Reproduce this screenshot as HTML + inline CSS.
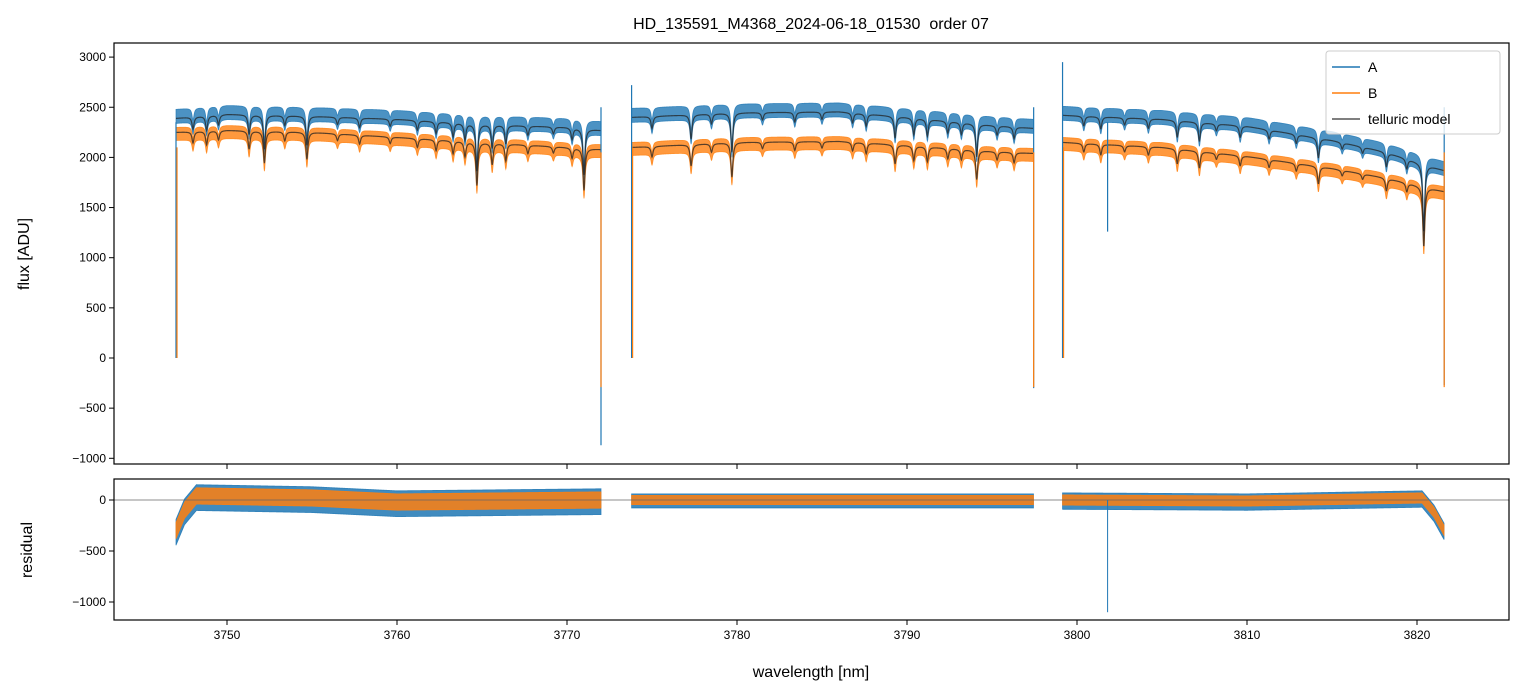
<!DOCTYPE html>
<html><head><meta charset="utf-8">
<style>
html,body{margin:0;padding:0;background:#fff;}
svg{display:block;font-family:"Liberation Sans","DejaVu Sans",sans-serif;}
</style></head>
<body>
<svg id="chart" width="1523" height="696" viewBox="0 0 1523 696" xmlns="http://www.w3.org/2000/svg">
<text x="811" y="29" font-size="16" text-anchor="middle" xml:space="preserve">HD_135591_M4368_2024-06-18_01530  order 07</text>
<g id="topPanel"></g>
<g id="botPanel"></g>
<text x="811" y="677" font-size="16" text-anchor="middle">wavelength [nm]</text>
<text x="29" y="254" font-size="16" text-anchor="middle" transform="rotate(-90 29 254)">flux [ADU]</text>
<text x="32" y="550" font-size="16" text-anchor="middle" transform="rotate(-90 32 550)">residual</text>
<g>
<rect x="1326" y="51" width="174" height="83" rx="3" fill="#fff" fill-opacity="0.8" stroke="#ccc"/>
<line x1="1332" y1="67" x2="1360" y2="67" stroke="#1f77b4" stroke-width="1.5"/>
<text x="1368" y="72" font-size="14">A</text>
<line x1="1332" y1="93" x2="1360" y2="93" stroke="#ff7f0e" stroke-width="1.5"/>
<text x="1368" y="98" font-size="14">B</text>
<line x1="1332" y1="119" x2="1360" y2="119" stroke="#555" stroke-width="1.5"/>
<text x="1368" y="124" font-size="14">telluric model</text>
</g>
</svg>
<script>
// ---- data ----
const xTicks = [3750,3760,3770,3780,3790,3800,3810,3820];
const yTicksTop = [3000,2500,2000,1500,1000,500,0,-500,-1000];
const yTicksBot = [0,-500,-1000];
const segStart = [3747.0, 3773.8, 3799.15];
const segEnd   = [3772.0, 3797.45, 3821.6];
const contW = [[3747,3750,3755,3760,3765,3770,3772],[3773.8,3780,3786,3790,3795,3797.45],[3799.15,3805,3810,3815,3818,3821.6]];
const contA = [[2390,2430,2410,2380,2330,2300,2270],[2400,2445,2455,2400,2320,2290],[2420,2380,2310,2170,2060,1870]];
const contB = [[2250,2270,2250,2200,2150,2100,2080],[2100,2150,2160,2120,2060,2040],[2150,2100,2010,1890,1800,1660]];
const lineW = [3748.0,3748.8,3749.5,3751.3,3752.2,3753.4,3754.7,3756.5,3757.8,3759.6,3761.2,3762.3,3763.3,3764.0,3764.7,3765.6,3766.4,3767.7,3769.2,3770.3,3771.0,
 3775.0,3777.3,3778.5,3779.7,3781.5,3783.4,3785.0,3786.8,3787.6,3789.3,3790.4,3791.2,3792.4,3793.2,3794.1,3795.3,3796.3,
 3800.4,3801.4,3802.8,3804.2,3805.9,3807.2,3808.2,3809.6,3811.3,3812.9,3814.2,3815.6,3816.8,3818.2,3819.4,3820.4];
const lineD = [0.05,0.06,0.04,0.08,0.14,0.04,0.12,0.03,0.04,0.03,0.04,0.05,0.06,0.07,0.2,0.1,0.08,0.04,0.03,0.05,0.2,
 0.05,0.1,0.04,0.16,0.03,0.04,0.03,0.04,0.05,0.09,0.07,0.07,0.05,0.05,0.14,0.04,0.05,
 0.04,0.05,0.03,0.04,0.07,0.08,0.03,0.05,0.04,0.04,0.09,0.03,0.03,0.07,0.05,0.35];
const edgeStartA = [2350, 2720, 2950];
const edgeEnd = [-870, -300, -270];
const resW = [[3747,3747.5,3748.2,3755,3760,3772],[3773.8,3797.45],[3799.15,3810,3820.3,3821.0,3821.6]];
const resV = [[-300,-100,40,20,-20,0],[0,0],[0,-10,20,-120,-300]];
const resSpreadA = [110, 60, 70];
const resSpreadB = [80, 45, 50];

// ---- axes ----
const L=114,R=1509;
const xs=w=>227+(w-3750)*17;
const yt=v=>358-v*0.1003;
const yb=v=>500-v*0.102;
const NS='http://www.w3.org/2000/svg';
function mk(tag,attrs,parent){const e=document.createElementNS(NS,tag);for(const k in attrs)e.setAttribute(k,attrs[k]);parent.appendChild(e);return e;}
function interp(ws,vs,w){if(w<=ws[0])return vs[0];for(let i=1;i<ws.length;i++){if(w<=ws[i]){const t=(w-ws[i-1])/(ws[i]-ws[i-1]);return vs[i-1]+t*(vs[i]-vs[i-1]);}}return vs[vs.length-1];}
function absorb(w){let f=1;for(let i=0;i<lineW.length;i++){const d=(w-lineW[i])/0.07;f*=1-lineD[i]/(1+d*d);}return f;}
const topG=document.getElementById('topPanel'),botG=document.getElementById('botPanel');

function drawBand(parent,fn,yf,up,dn,color,op,name){
  for(let s=0;s<3;s++){
    const ws=[];for(let w=segStart[s];w<=segEnd[s]+1e-9;w+=0.02)ws.push(w);
    let d='';
    ws.forEach(w=>{d+=(d?'L':'M')+xs(w).toFixed(2)+','+yf(fn(s,w)+up(s)).toFixed(2);});
    for(let i=ws.length-1;i>=0;i--){const w=ws[i];d+='L'+xs(w).toFixed(2)+','+yf(fn(s,w)-dn(s)).toFixed(2);}
    d+='Z';
    const p=mk('path',{d:d,fill:color,'fill-opacity':op,stroke:color,'stroke-width':0.8,'stroke-opacity':op},parent);
    
    
  }
}
function drawLine(parent,fn,yf,color,width,op,name){
  for(let s=0;s<3;s++){
    let d='';
    for(let w=segStart[s];w<=segEnd[s];w+=0.02){d+=(d?'L':'M')+xs(w).toFixed(2)+','+yf(fn(s,w)).toFixed(2);}
    const p=mk('path',{d:d,fill:'none',stroke:color,'stroke-width':width,'stroke-opacity':op},parent);
    
    
  }
}
const modelA=(s,w)=>interp(contW[s],contA[s],w)*absorb(w);
const modelB=(s,w)=>interp(contW[s],contB[s],w)*absorb(w);
drawBand(topG,modelA,yt,()=>90,()=>50,'#1f77b4',0.8,'series-a');
drawBand(topG,modelB,yt,()=>50,()=>80,'#ff7f0e',0.8,'series-b');
drawLine(topG,modelA,yt,'#222',1.2,0.75,'telluric-model-a');
drawLine(topG,modelB,yt,'#222',1.2,0.75,'telluric-model-b');
for(let s=0;s<3;s++){
  const x0=xs(segStart[s]),x1=xs(segEnd[s]);
  let e=mk('line',{x1:x0,y1:yt(edgeStartA[s]),x2:x0,y2:yt(0),stroke:'#1f77b4','stroke-width':1.2},topG);
  
  
  e=mk('line',{x1:x0+1,y1:yt(2100),x2:x0+1,y2:yt(0),stroke:'#ff7f0e','stroke-width':1.2},topG);
  
  
  e=mk('line',{x1:x1,y1:yt(2500),x2:x1,y2:yt(edgeEnd[s]),stroke:'#1f77b4','stroke-width':1.2},topG);
  
  
  e=mk('line',{x1:x1,y1:yt(2050),x2:x1,y2:yt(-290),stroke:'#ff7f0e','stroke-width':1.2},topG);
  
  
}
let sp=mk('line',{x1:xs(3801.8),y1:yt(2350),x2:xs(3801.8),y2:yt(1260),stroke:'#1f77b4','stroke-width':1.2},topG);


const resTrend=(s,w)=>interp(resW[s],resV[s],w);
drawBand(botG,resTrend,yb,s=>resSpreadA[s],s=>resSpreadA[s]*1.3,'#1f77b4',0.85,'residual-a');
drawBand(botG,resTrend,yb,s=>resSpreadB[s],s=>resSpreadB[s],'#ff7f0e',0.85,'residual-b');
let zl=mk('line',{x1:L,y1:yb(0),x2:R,y2:yb(0),stroke:'#666','stroke-width':0.8},botG);


sp=mk('line',{x1:xs(3801.8),y1:yb(0),x2:xs(3801.8),y2:yb(-1100),stroke:'#1f77b4','stroke-width':1},botG);



function frame(g,y0,y1,yTicks,yf,showX){
  const r=mk('rect',{x:L,y:y0,width:R-L,height:y1-y0,fill:'none',stroke:'#000','stroke-width':1.2},g);
  
  
  yTicks.forEach(v=>{const y=yf(v);mk('line',{x1:L-5,y1:y,x2:L,y2:y,stroke:'#000'},g);
    const t=mk('text',{x:L-8,y:y+4,'font-size':12,'text-anchor':'end'},g);t.textContent=(v<0?'\u2212'+(-v):v);
    
    });
  xTicks.forEach(w=>{const x=xs(w);mk('line',{x1:x,y1:y1,x2:x,y2:y1+5,stroke:'#000'},g);
    if(showX){const t=mk('text',{x:x,y:y1+19,'font-size':12,'text-anchor':'middle'},g);t.textContent=w;
    
    }});
}
frame(topG,43,464,yTicksTop,yt,false);
frame(botG,479,620,yTicksBot,yb,true);
</script>
</body></html>
